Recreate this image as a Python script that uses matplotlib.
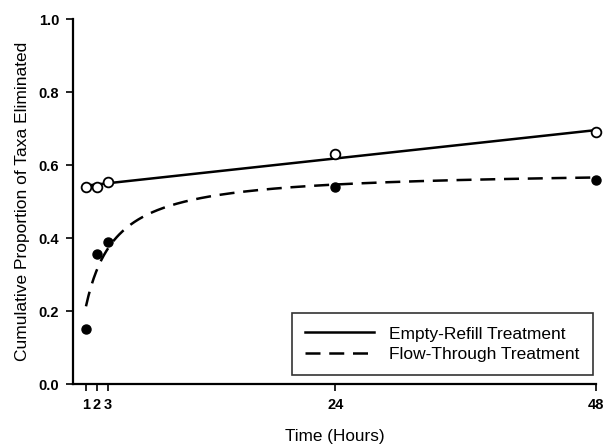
import numpy as np
import matplotlib
matplotlib.use("Agg")
import matplotlib.pyplot as plt

plt.rcParams["font.family"] = ["Liberation Sans", "DejaVu Sans"]

hours = [1, 2, 3, 24, 48]
empty_refill = [0.54, 0.54, 0.555, 0.63, 0.69]
flow_through = [0.15, 0.355, 0.39, 0.54, 0.56]
xticks = [1, 2, 3, 24, 48]
yticks = [0.0, 0.2, 0.4, 0.6, 0.8, 1.0]

x = np.array(hours, float)
ye = np.array(empty_refill)
yf = np.array(flow_through)

# linear fit for empty-refill
m, c = np.polyfit(x, ye, 1)
# hyperbolic fit a*x/(b+x) for flow-through (grid search on b)
best = None
for b in np.linspace(0.1, 10, 2000):
    g = x / (b + x)
    a = (g @ yf) / (g @ g)
    err = np.sum((a * g - yf) ** 2)
    if best is None or err < best[0]:
        best = (err, a, b)
_, a, b = best

xs = np.linspace(1, 48, 400)

fig = plt.figure(figsize=(6.03, 4.45), dpi=100)
ax = fig.add_axes([0.121, 0.137, 0.867, 0.820])

ax.plot(xs, m * xs + c, "-", color="black", lw=1.8, label="Empty-Refill Treatment")
ax.plot(xs, a * xs / (b + xs), "--", color="black", lw=1.8, dashes=(6, 3.5),
        label="Flow-Through Treatment")
ax.plot(x, ye, "o", mfc="white", mec="black", mew=1.3, ms=7, clip_on=False)
ax.plot(x, yf, "o", color="black", ms=6.5, clip_on=False)

ax.set_xlim(-0.2, 48)
ax.set_ylim(0, 1.0)
ax.set_xticks(xticks)
ax.set_yticks(yticks)
ax.set_yticklabels([f"{v:.1f}" for v in yticks])
for lab in ax.get_xticklabels() + ax.get_yticklabels():
    lab.set_fontweight("bold")
ax.tick_params(direction="out", length=5, width=1.2, labelsize=10.5, pad=5)
for s in ("top", "right"):
    ax.spines[s].set_visible(False)
for s in ("left", "bottom"):
    ax.spines[s].set_linewidth(1.6)

ax.set_xlabel("Time (Hours)", fontsize=12.3, labelpad=12)
ax.set_ylabel("Cumulative Proportion of Taxa Eliminated", fontsize=12.5, labelpad=6)

leg = ax.legend(loc="lower right", bbox_to_anchor=(0.994, 0.025), borderaxespad=0,
                fontsize=12.5, handlelength=4.0, handletextpad=0.85,
                frameon=True, fancybox=False, edgecolor="black",
                borderpad=0.75, labelspacing=0.3)
leg.get_frame().set_linewidth(1.2)

fig.savefig("out.png", dpi=100)
